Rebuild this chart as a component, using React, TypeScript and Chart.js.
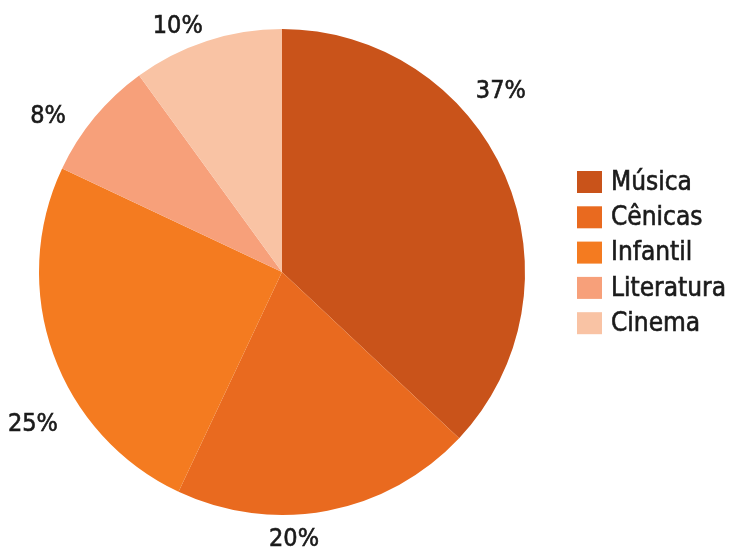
import React, { useEffect, useRef } from "react";
import { Chart, registerables } from "chart.js";

Chart.register(...registerables);

const categories = ["Música", "Cênicas", "Infantil", "Literatura", "Cinema"];
const values = [37, 20, 25, 8, 10];
const colors = ["#C9531A", "#E96A1F", "#F47B20", "#F7A07A", "#F9C3A4"];

// label anchor: angle (degrees clockwise from top) and distance from centre, as fraction of radius
const labelAngles = [50.1, 177.4, 238.8, 303.9, 337.2];
const labelDist = [1.174, 1.092, 1.198, 1.16, 1.107];

const FONT = "'DejaVu Sans Condensed', 'Liberation Sans Narrow', Roboto, sans-serif";

const overlay = {
  id: "overlay",
  afterDraw(chart: any) {
    const ctx = chart.ctx;
    const meta = chart.getDatasetMeta(0);
    const arc = meta.data[0];
    if (!arc) return;
    const cx = arc.x;
    const cy = arc.y;
    const r = arc.outerRadius;
    ctx.save();
    ctx.fillStyle = "#1b1b1b";
    ctx.strokeStyle = "#1b1b1b";
    ctx.lineWidth = 0.6;
    ctx.font = `25px ${FONT}`;
    ctx.textAlign = "center";
    ctx.textBaseline = "middle";
    values.forEach((v, i) => {
      const a = (labelAngles[i] * Math.PI) / 180;
      const d = r * labelDist[i];
      const x = cx + Math.sin(a) * d;
      const y = cy - Math.cos(a) * d + 2;
      ctx.fillText(`${v}%`, x, y);
      ctx.strokeText(`${v}%`, x, y);
    });
    // legend
    const lx = 577;
    const ly0 = 182;
    const step = 35.3;
    ctx.font = `26px ${FONT}`;
    ctx.textAlign = "left";
    categories.forEach((c, i) => {
      const y = ly0 + i * step;
      ctx.fillStyle = colors[i];
      ctx.fillRect(lx, y - 11, 25, 22);
      ctx.fillStyle = "#1b1b1b";
      ctx.fillText(c, lx + 34, y + 1);
      ctx.strokeText(c, lx + 34, y + 1);
    });
    ctx.restore();
  },
};

export default function App() {
  const ref = useRef<HTMLCanvasElement>(null);
  useEffect(() => {
    if (!ref.current) return;
    const chart = new Chart(ref.current, {
      type: "pie",
      data: {
        labels: categories,
        datasets: [
          {
            data: values,
            backgroundColor: colors,
            borderWidth: 0,
          },
        ],
      },
      options: {
        responsive: false,
        animation: false,
        layout: { padding: { left: 39, right: 211, top: 29, bottom: 35 } },
        plugins: {
          legend: { display: false },
          tooltip: { enabled: false },
        },
      },
      plugins: [overlay],
    });
    return () => chart.destroy();
  }, []);
  return (
    <div style={{ position: "absolute", left: 0, top: 0, width: 736, height: 550, background: "#fff" }}>
      <canvas ref={ref} width={736} height={550} />
    </div>
  );
}
